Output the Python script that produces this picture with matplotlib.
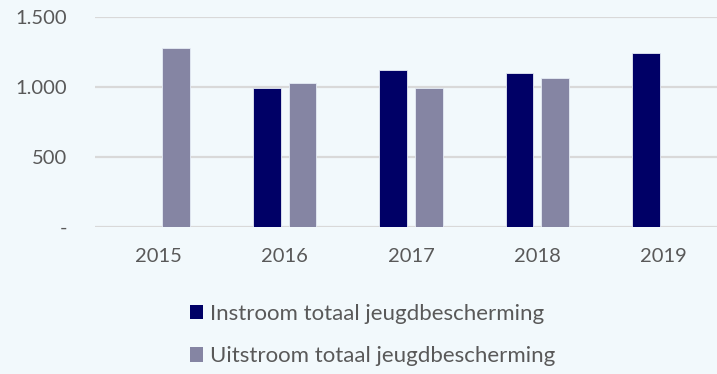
import numpy as np
import matplotlib
matplotlib.use("Agg")
import matplotlib.pyplot as plt
from matplotlib.patches import Patch
from matplotlib.ticker import FuncFormatter

years = ["2015", "2016", "2017", "2018", "2019"]
instroom = [np.nan, 991, 1121, 1100, 1241]
uitstroom = [1279, 1031, 995, 1062, np.nan]
series_labels = ["Instroom totaal jeugdbescherming", "Uitstroom totaal jeugdbescherming"]

BG = "#F2F9FC"
NAVY = "#000066"
GREY = "#8585A3"
TEXT = "#595959"
GRID = "#D9D9D9"

plt.rcParams["font.family"] = ["Lato", "DejaVu Sans"]

fig = plt.figure(figsize=(7.17, 3.74), dpi=100, facecolor=BG)
ax = fig.add_axes([95 / 717, 147 / 374, 632 / 717, 210 / 374])
ax.set_facecolor(BG)

x = np.arange(len(years))
w = 0.22
off = 0.142
ax.bar(x - off, instroom, w, color=NAVY, edgecolor="#E6ECF5", linewidth=0.6, zorder=3)
ax.bar(x + off, uitstroom, w, color=GREY, edgecolor="#E6ECF5", linewidth=0.6, zorder=3)

ax.set_xlim(-0.5, len(years) - 0.5)
ax.set_ylim(0, 1500)
ax.set_yticks([0, 500, 1000, 1500])
ax.yaxis.set_major_formatter(
    FuncFormatter(lambda v, p: "-" if v == 0 else f"{int(v):,}".replace(",", "."))
)
ax.set_xticks(x)
ax.set_xticklabels(years)
ax.tick_params(axis="both", length=0, labelsize=14.5, labelcolor=TEXT)
ax.tick_params(axis="y", pad=20)
ax.tick_params(axis="x", pad=15)

ax.grid(axis="y", color=GRID, linewidth=1.6, zorder=0)
ax.set_axisbelow(True)
for s in ax.spines.values():
    s.set_visible(False)

handles = [Patch(facecolor=NAVY, edgecolor="none"), Patch(facecolor=GREY, edgecolor="none")]
leg = fig.legend(
    handles, series_labels, loc="center left", bbox_to_anchor=(179 / 717, 1 - 335 / 374),
    frameon=False, fontsize=16, labelcolor=TEXT, handlelength=0.6, handleheight=0.6,
    handletextpad=0.3, labelspacing=1.02, borderpad=0,
)

fig.savefig("out.png", dpi=100, facecolor=BG)
